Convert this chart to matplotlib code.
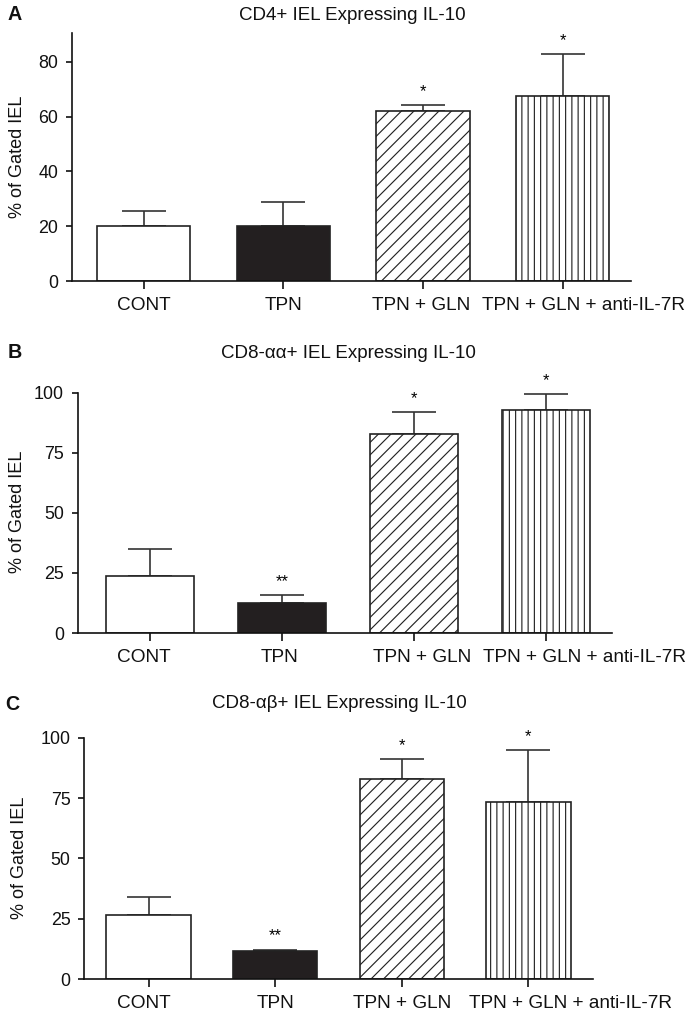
import matplotlib
matplotlib.use("Agg")
import matplotlib.pyplot as plt
import matplotlib.transforms as mtransforms
import numpy as np

DPI = 150
W, H = 693, 1014
plt.rcParams['font.family'] = ['Liberation Sans', 'DejaVu Sans']
plt.rcParams['hatch.linewidth'] = 0.55
plt.rcParams['hatch.color'] = '#111111'

categories = ["CONT", "TPN", "TPN + GLN", "TPN + GLN + anti-IL-7R"]

titles = ["CD4+ IEL Expressing IL-10",
          "CD8-\u03b1\u03b1+ IEL Expressing IL-10",
          "CD8-\u03b1\u03b2+ IEL Expressing IL-10"]
letters = ["A", "B", "C"]

means_A = [19.9, 20.1, 61.9, 67.4]
upper_A = [25.4, 28.9, 64.2, 82.8]
stars_A = ["", "", "*", "*"]
means_B = [23.6, 12.5, 82.7, 92.8]
upper_B = [34.9, 15.8, 91.8, 99.4]
stars_B = ["", "**", "*", "*"]
means_C = [26.6, 11.8, 83.0, 73.2]
upper_C = [33.9, 12.2, 91.3, 94.8]
stars_C = ["", "**", "*", "*"]

yticks_A = [0, 20, 40, 60, 80]
yticks_BC = [0, 25, 50, 75, 100]

panels = [
    dict(means=means_A, upper=upper_A, stars=stars_A, yticks=yticks_A, ymax=90.3,
         box=(72, 631, 33.5, 281), xlim=(-0.515, 3.49), title_xy=(352.6, 15), letter_xy=(8, 15),
         ylab_xy=(17.5, 157), lab_shift=[0, 0, -2, 21]),
    dict(means=means_B, upper=upper_B, stars=stars_B, yticks=yticks_BC, ymax=100,
         box=(77.6, 612, 392.7, 633), xlim=(-0.55, 3.5), title_xy=(348, 353), letter_xy=(8, 353),
         ylab_xy=(17.5, 512), lab_shift=[-6, -3, 8, 38]),
    dict(means=means_C, upper=upper_C, stars=stars_C, yticks=yticks_BC, ymax=100,
         box=(84, 593, 737.7, 979), xlim=(-0.51, 3.51), title_xy=(339, 703), letter_xy=(5, 705),
         ylab_xy=(20, 858), lab_shift=[-5, 0, 0, 42]),
]

faces = ['white', '#231f20', 'white', 'white']
hatches = [None, None, '////', '||||']
edge = '#222222'

fig = plt.figure(figsize=(W / DPI, H / DPI), dpi=DPI)

for i, p in enumerate(panels):
    l, r, t, b = p['box']
    ax = fig.add_axes([l / W, 1 - b / H, (r - l) / W, (b - t) / H])
    x = np.arange(len(categories))
    for j in range(len(categories)):
        ax.bar(x[j], p['means'][j], width=0.667, color=faces[j], edgecolor=edge,
               linewidth=0.8, hatch=hatches[j], zorder=2)
    err = np.array(p['upper']) - np.array(p['means'])
    ax.errorbar(x, p['means'], yerr=[np.zeros_like(err), err], fmt='none',
                ecolor='#333333', elinewidth=0.8, capsize=10.5, capthick=0.8, zorder=1)
    for j, s in enumerate(p['stars']):
        if s:
            ax.text(x[j], p['upper'][j] + p['ymax'] * 0.025, s, ha='center', va='bottom',
                    fontsize=8, clip_on=False)
    ax.set_xlim(*p['xlim'])
    ax.set_ylim(0, p['ymax'])
    ax.set_yticks(p['yticks'])
    ax.set_xticks(x)
    ax.set_xticklabels([])
    base = ax.get_xaxis_transform()
    for j, (cat, dx) in enumerate(zip(categories, p['lab_shift'])):
        tr = base + mtransforms.ScaledTranslation(dx / DPI, -16 / DPI, fig.dpi_scale_trans)
        ax.text(x[j], 0, cat, transform=tr, ha='center', va='top', fontsize=9.1,
                color='#111111', clip_on=False)
    for s in ['top', 'right']:
        ax.spines[s].set_visible(False)
    for s in ['left', 'bottom']:
        ax.spines[s].set_linewidth(0.8)
        ax.spines[s].set_color('#111111')
    ax.tick_params(axis='x', length=4, width=0.8, colors='#111111')
    ax.tick_params(axis='y', length=3, width=0.8, pad=3.5, labelsize=8.6, colors='#111111')
    tx, ty = p['title_xy']
    fig.text(tx / W, 1 - ty / H, titles[i], ha='center', va='center', fontsize=9, color='#111111')
    lx, ly = p['letter_xy']
    fig.text(lx / W, 1 - ly / H, letters[i], ha='left', va='center', fontsize=9.5,
             fontweight='bold', color='#111111')
    yx, yy = p['ylab_xy']
    fig.text(yx / W, 1 - yy / H, "% of Gated IEL", ha='center', va='center', rotation=90,
             fontsize=8.7, color='#111111')

fig.savefig("out.png", dpi=DPI)
